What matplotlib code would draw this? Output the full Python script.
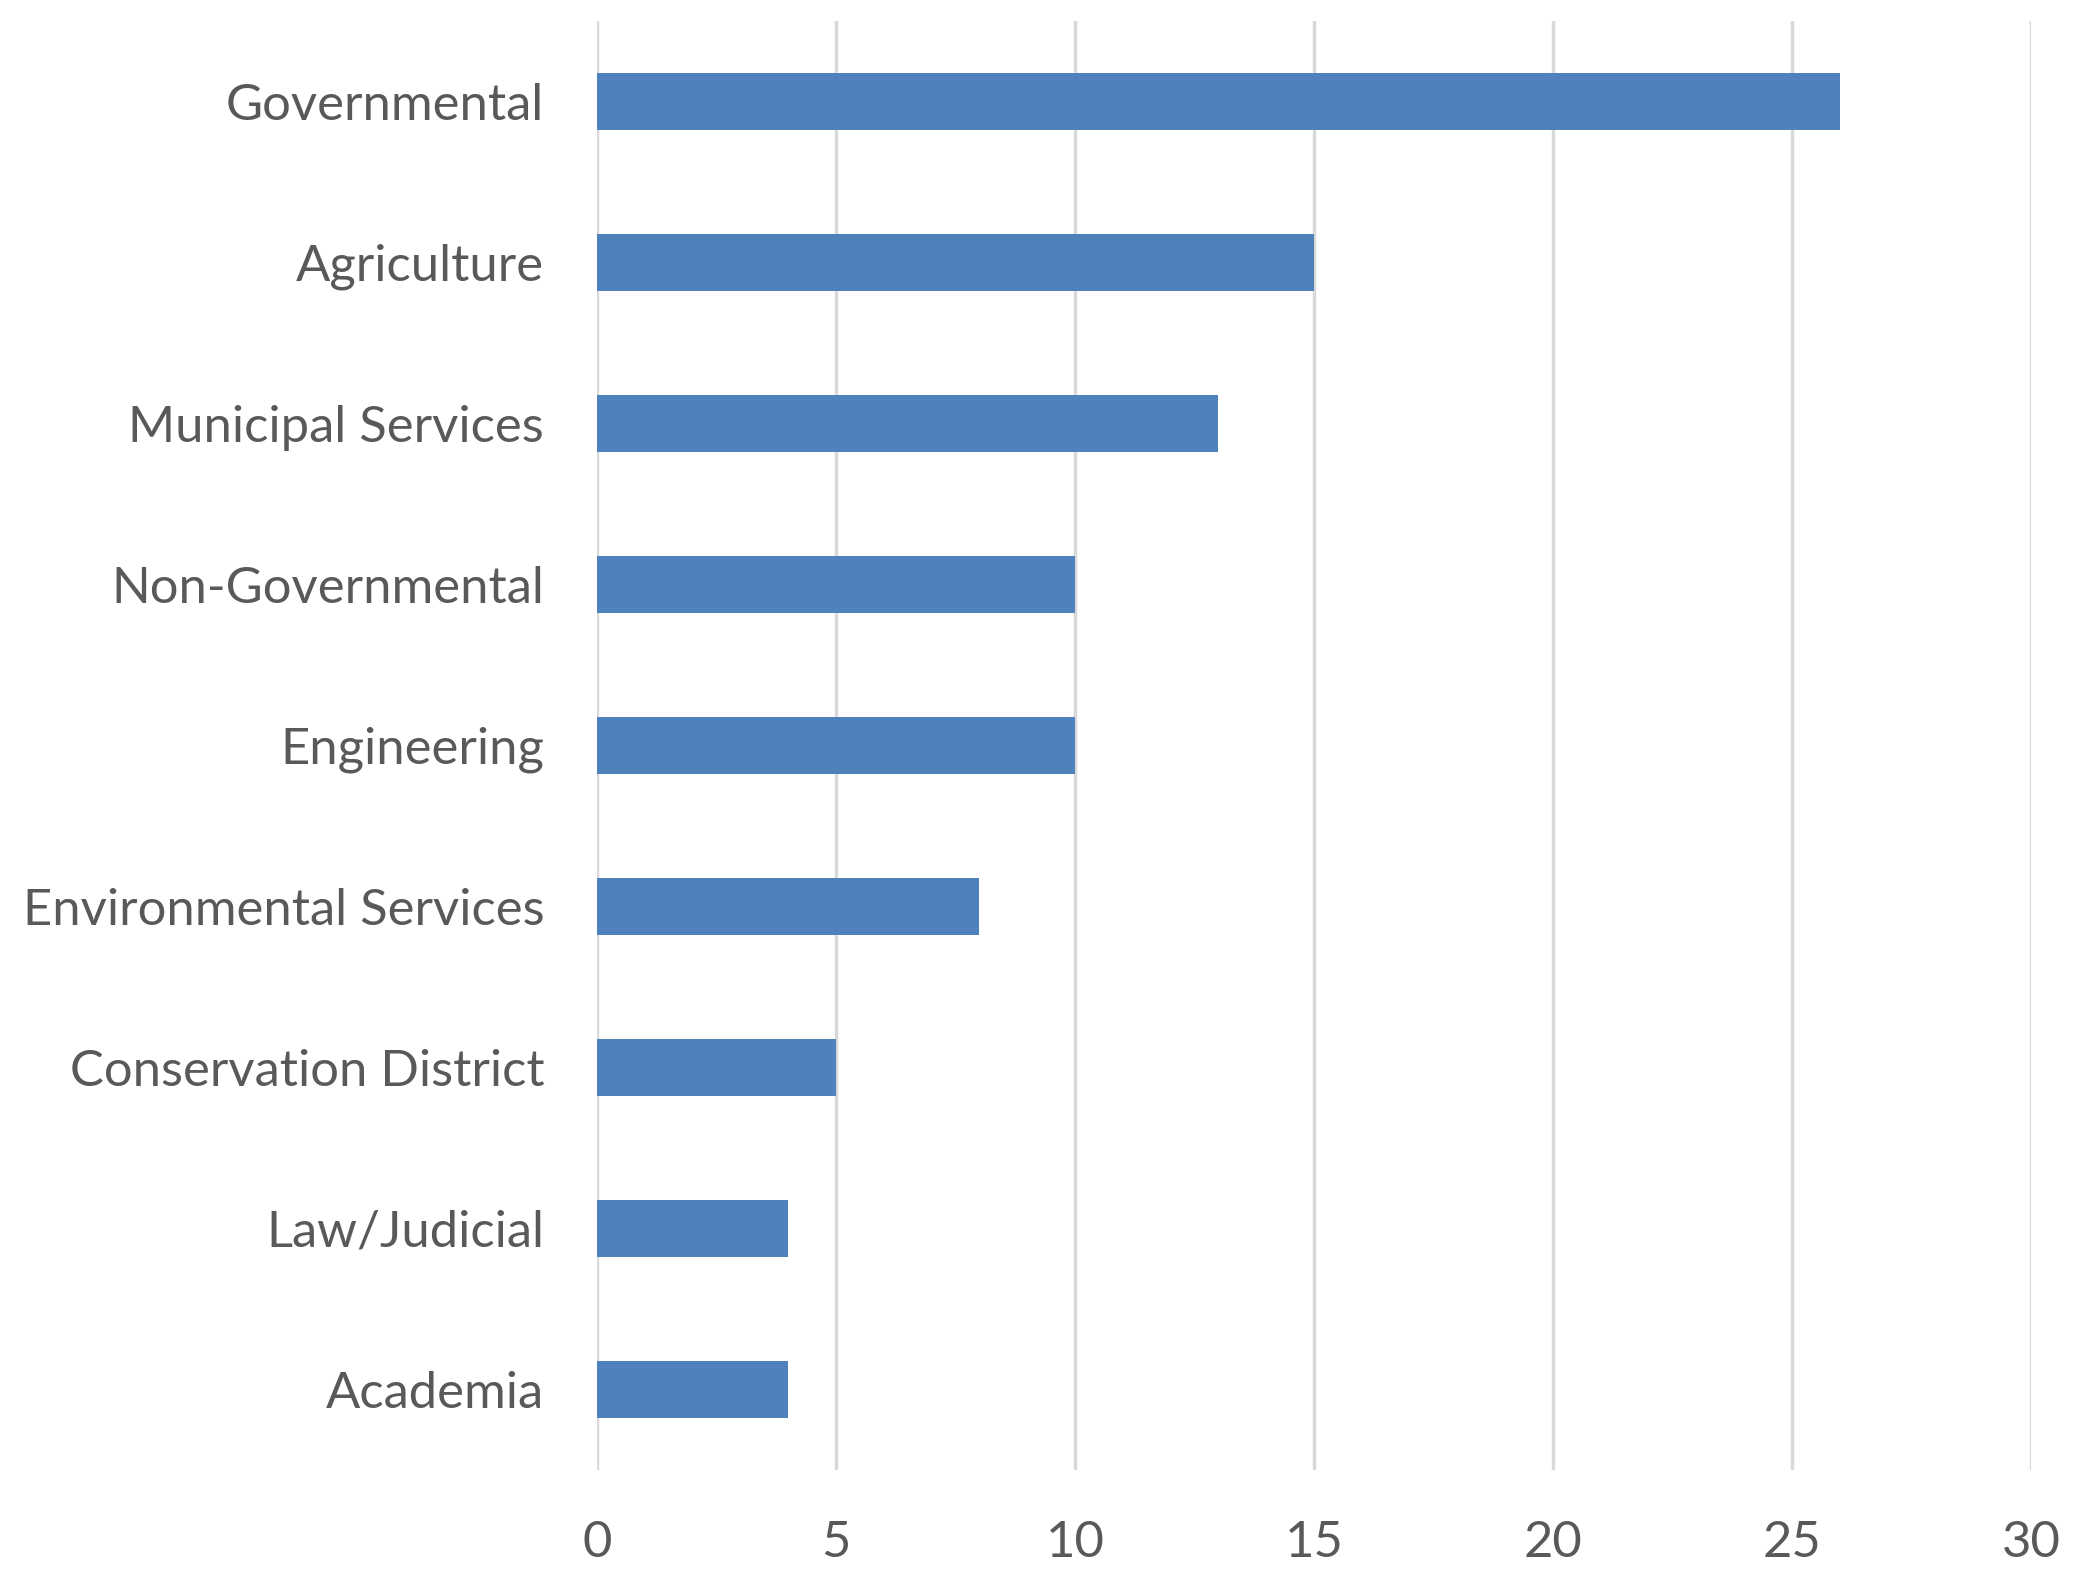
import matplotlib
matplotlib.use("Agg")
import matplotlib.pyplot as plt

categories = ["Governmental", "Agriculture", "Municipal Services", "Non-Governmental",
              "Engineering", "Environmental Services", "Conservation District",
              "Law/Judicial", "Academia"]
values = [26, 15, 13, 10, 10, 8, 5, 4, 4]
xticks = [0, 5, 10, 15, 20, 25, 30]

plt.rcParams['font.family'] = ['Lato', 'DejaVu Sans']
fig = plt.figure(figsize=(20.75, 15.69), dpi=100)
ax = fig.add_axes([0.2877, 0.0631, 0.9788 - 0.2877, 0.98662 - 0.0631])

ypos = list(range(len(categories)))
ax.barh(ypos, values, height=0.35, color="#4F81BD", zorder=3)
ax.set_ylim(len(categories) - 0.5, -0.5)
ax.set_xlim(0, 30)
ax.set_xticks(xticks)
ax.set_yticks(ypos)
ax.set_yticklabels(categories)
ax.grid(axis="x", color="#D9D9D9", linewidth=2.5, zorder=0)
for s in ax.spines.values():
    s.set_visible(False)
ax.tick_params(axis="both", length=0, colors="#595959", labelsize=36.5)
ax.tick_params(axis="y", pad=38)
ax.tick_params(axis="x", pad=36)
fig.savefig("out.png", dpi=100, facecolor="white")
